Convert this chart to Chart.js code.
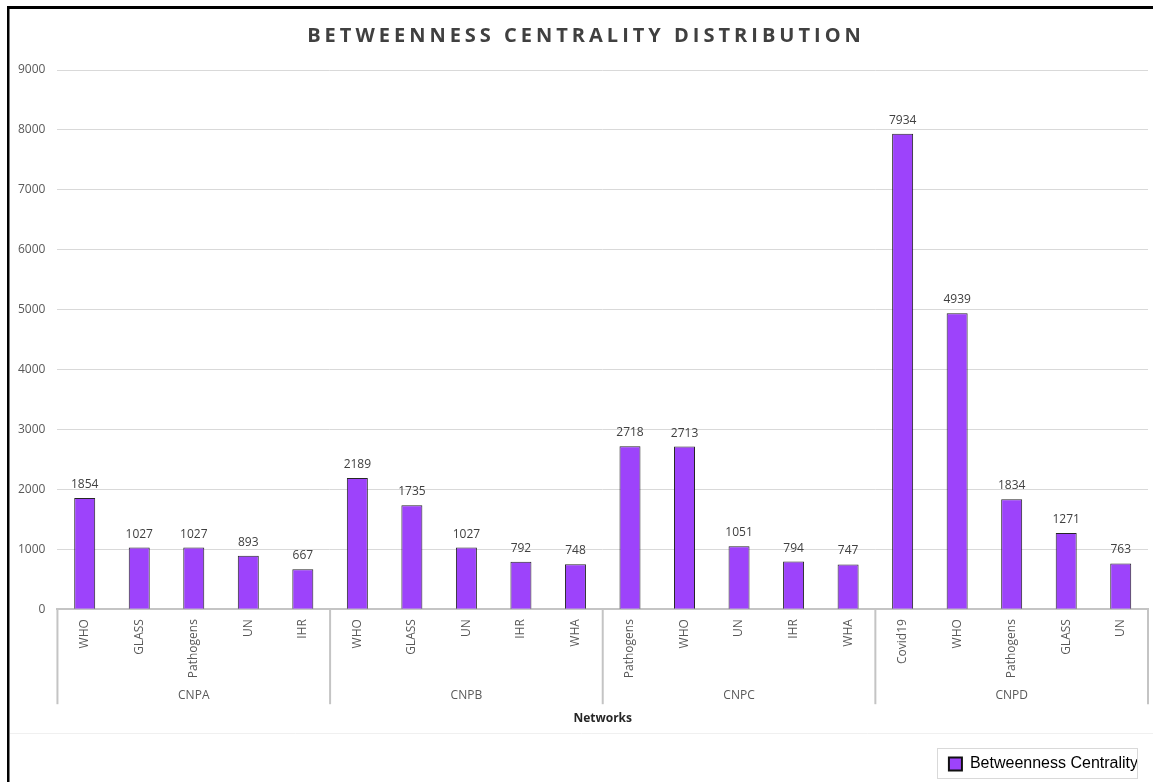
<!DOCTYPE html>
<html><head><meta charset="utf-8">
<script src="https://cdn.jsdelivr.net/npm/chart.js@4.4.0/dist/chart.umd.min.js"></script>
<style>html,body{margin:0;padding:0;background:#fff;}canvas{display:block;}</style>
</head><body>
<canvas id="c" width="1153" height="782"></canvas>
<script>
// ---- data ----
const groups = ['CNPA', 'CNPB', 'CNPC', 'CNPD'];
const groupSizes = [5, 5, 5, 5];
const nodes = ['WHO', 'GLASS', 'Pathogens', 'UN', 'IHR',
               'WHO', 'GLASS', 'UN', 'IHR', 'WHA',
               'Pathogens', 'WHO', 'UN', 'IHR', 'WHA',
               'Covid19', 'WHO', 'Pathogens', 'GLASS', 'UN'];
const values = [1854, 1027, 1027, 893, 667,
                2189, 1735, 1027, 792, 748,
                2718, 2713, 1051, 794, 747,
                7934, 4939, 1834, 1271, 763];
const seriesName = 'Betweenness Centrality';
const yMin = 0, yMax = 9000, yStep = 1000;

const deco = {
  id: 'deco',
  beforeDraw(chart) {
    const ctx = chart.ctx;
    ctx.save();
    ctx.fillStyle = '#fff';
    ctx.fillRect(0, 0, chart.width, chart.height);
    ctx.restore();
    const tb = chart.titleBlock;
    if (tb && !tb._patched) {
      const orig = tb.draw.bind(tb);
      tb.draw = function (area) {
        const c = this.ctx; c.save();
        try { c.letterSpacing = '4px'; } catch (e) {}
        c.translate(9, 0);
        orig(area); c.restore();
      };
      tb._patched = true;
    }
  },
  afterDatasetsDraw(chart) {
    const ctx = chart.ctx;
    const meta = chart.getDatasetMeta(0);
    ctx.save();
    ctx.font = '12px "Open Sans"';
    ctx.fillStyle = '#404040';
    ctx.textAlign = 'center';
    ctx.textBaseline = 'alphabetic';
    meta.data.forEach((bar, i) => {
      ctx.fillText(String(values[i]), bar.x, bar.y - 10);
    });
    ctx.restore();
  },
  afterDraw(chart) {
    const ctx = chart.ctx;
    const x = chart.scales.x, x2 = chart.scales.x2;
    const area = chart.chartArea;
    const half = (x.getPixelForValue(1) - x.getPixelForValue(0)) / 2;
    const yEnd = x2.top + x2.options.ticks.padding + 24;
    ctx.save();
    ctx.strokeStyle = '#c4c4c4';
    ctx.lineWidth = 2;
    let idx = 0;
    const bounds = [0];
    groupSizes.forEach(s => { idx += s; bounds.push(idx); });
    bounds.forEach(b => {
      const px = b < nodes.length ? x.getPixelForValue(b) - half : x.getPixelForValue(nodes.length - 1) + half;
      ctx.beginPath();
      ctx.moveTo(px, area.bottom);
      ctx.lineTo(px, yEnd);
      ctx.stroke();
    });
    const hb = chart.legend && chart.legend.legendHitBoxes && chart.legend.legendHitBoxes[0];
    // faint plot-area boundary
    ctx.strokeStyle = '#f0f0f0';
    ctx.lineWidth = 1;
    const fy = Math.round(hb ? hb.top - 23 : x2.bottom) + 0.5;
    ctx.beginPath(); ctx.moveTo(10, fy); ctx.lineTo(chart.width, fy); ctx.stroke();
    // legend border
    if (hb) {
      ctx.strokeStyle = '#d9d9d9';
      ctx.strokeRect(Math.round(hb.left) - 11.5, Math.round(hb.top) - 7.5, 200, hb.height + 14);
    }
    // black frame (top & left)
    ctx.fillStyle = '#000';
    ctx.fillRect(7, 6, chart.width - 7, 3);
    ctx.fillRect(7, 6, 2.5, chart.height - 6);
    ctx.restore();
  }
};

new Chart(document.getElementById('c'), {
  type: 'bar',
  data: {
    labels: nodes,
    datasets: [{
      label: seriesName,
      data: values,
      backgroundColor: '#9d43fb',
      borderColor: '#262626',
      borderWidth: 1,
      categoryPercentage: 1,
      barPercentage: 0.385
    }]
  },
  options: {
    responsive: false,
    animation: false,
    devicePixelRatio: 1,
    layout: { padding: { left: 6, right: 5, top: 10, bottom: 0 } },
    plugins: {
      title: {
        display: true,
        text: 'BETWEENNESS CENTRALITY DISTRIBUTION',
        color: '#404040',
        font: { family: 'Open Sans', size: 20, weight: 'bold' },
        padding: { top: 14, bottom: 22 }
      },
      legend: {
        position: 'bottom',
        align: 'end',
        labels: {
          color: '#000',
          font: { family: 'Liberation Sans', size: 16 },
          boxWidth: 13,
          boxHeight: 13,
          padding: 10,
          generateLabels(chart) {
            const items = Chart.defaults.plugins.legend.labels.generateLabels(chart);
            items.forEach(it => { it.lineWidth = 2; it.strokeStyle = '#111'; });
            return items;
          }
        }
      },
      tooltip: { enabled: false }
    },
    scales: {
      y: {
        min: yMin, max: yMax,
        ticks: {
          stepSize: yStep, color: '#595959', font: { family: 'Open Sans', size: 12 }, padding: 12,
          callback: v => String(v)
        },
        grid: { color: '#d9d9d9', drawTicks: false },
        border: { display: false }
      },
      x: {
        type: 'category',
        position: 'bottom',
        ticks: {
          autoSkip: false, minRotation: 90, maxRotation: 90,
          color: '#595959', font: { family: 'Open Sans', size: 12 }, padding: 2
        },
        grid: { display: false },
        border: { display: true, color: '#c4c4c4', width: 2 }
      },
      x2: {
        type: 'category',
        position: 'bottom',
        labels: groups,
        offset: true,
        ticks: { color: '#595959', font: { family: 'Open Sans', size: 12 }, padding: 0 },
        grid: { display: false },
        border: { display: false },
        title: {
          display: true, text: 'Networks', color: '#262626',
          font: { family: 'Open Sans', size: 12, weight: 'bold' },
          padding: { top: 9, bottom: 20 }
        }
      }
    }
  },
  plugins: [deco]
});
</script>
</body></html>
